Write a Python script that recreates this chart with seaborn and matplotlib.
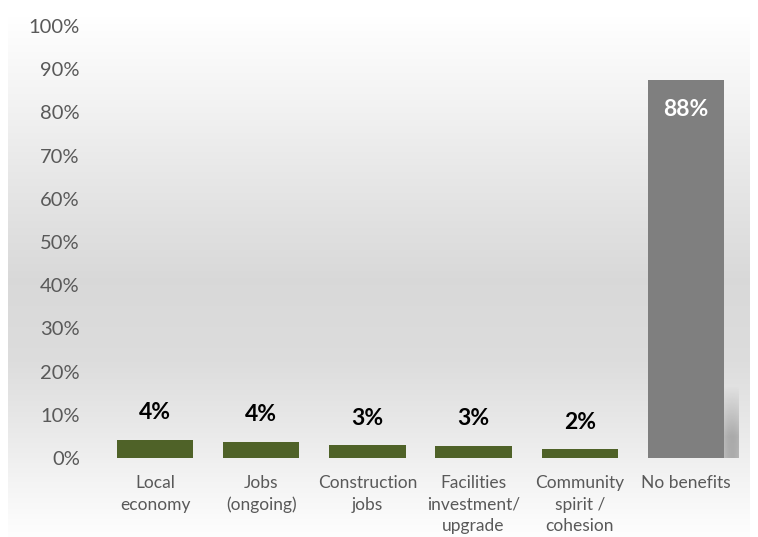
import numpy as np
import pandas as pd
import matplotlib
matplotlib.use("Agg")
import matplotlib.pyplot as plt
import seaborn as sns

# ---- data ----
categories = ["Local\neconomy", "Jobs\n(ongoing)", "Construction\njobs",
              "Facilities\ninvestment/\nupgrade", "Community\nspirit /\ncohesion",
              "No benefits"]
values = [4.2, 3.8, 2.9, 2.8, 2.0, 87.5]
value_labels = ["4%", "4%", "3%", "3%", "2%", "88%"]
bar_colors = ["#4f6228", "#4f6228", "#4f6228", "#4f6228", "#4f6228", "#7f7f7f"]
label_inside = [False, False, False, False, False, True]
y_ticks = [0, 10, 20, 30, 40, 50, 60, 70, 80, 90, 100]
y_tick_labels = ["0%", "10%", "20%", "30%", "40%", "50%", "60%", "70%", "80%", "90%", "100%"]

sns.set_style("white")
plt.rcParams["font.family"] = ["Lato", "DejaVu Sans"]

W, H, DPI = 758, 537, 100
fig = plt.figure(figsize=(W / DPI, H / DPI), dpi=DPI)
fig.patch.set_facecolor("white")

# ---- background gradient (chart area) ----
bg = fig.add_axes([8 / W, 0, (750 - 8) / W, (H - 17) / H])
bg.set_axis_off()
ys = np.arange(17, H) + 0.5
stops_y = [17, 80, 180, 280, 360, 430, 480, 520, 537]
stops_v = [1.0, 0.965, 0.905, 0.85, 0.865, 0.915, 0.955, 0.985, 0.995]
g = np.interp(ys, stops_y, stops_v)
img = np.repeat(np.repeat(g[:, None, None], 4, axis=1), 3, axis=2)
bg.imshow(img, aspect="auto", interpolation="nearest")

# ---- main axes ----
left, right = 102, 739
top, bottom = 26, 458
ax = fig.add_axes([left / W, (H - bottom) / H, (right - left) / W, (bottom - top) / H])
ax.set_facecolor("none")

df = pd.DataFrame({"category": categories, "value": values})
sns.barplot(data=df, x="category", y="value", hue="category",
            palette=dict(zip(categories, bar_colors)), order=categories,
            hue_order=categories, width=0.72, saturation=1, legend=False,
            linewidth=0, edgecolor="none", ax=ax, zorder=3)

# soft cast shadow next to the tall bar
bar = ax.containers[-1][0]
x0 = bar.get_x() + bar.get_width()
x1 = x0 + bar.get_width() * 0.24
y1 = bar.get_height() * 0.19
ny, nx = 80, 24
t = np.linspace(0, 1, ny)[:, None]          # 0 bottom -> 1 top
s = np.linspace(0, 1, nx)[None, :]          # 0 left -> 1 right
vert = np.clip((1 - t) / 0.7, 0, 1) ** 1.0
horiz = 0.5 + 0.5 * np.sin(np.pi * np.clip(s * 0.9 + 0.1, 0, 1)) ** 0.5
alpha = vert * horiz * 0.6
shadow = np.zeros((ny, nx, 4))
shadow[..., :3] = 0.5
shadow[..., 3] = alpha
ax.imshow(shadow, extent=[x0, x1, 0, y1], origin="lower", aspect="auto",
          interpolation="bilinear", zorder=2)

# value labels
for cont, lbl, inside in zip(ax.containers, value_labels, label_inside):
    b = cont[0]
    cx = b.get_x() + b.get_width() / 2
    h = b.get_height()
    if inside:
        ax.annotate(lbl, (cx, h), xytext=(0, -21), textcoords="offset points",
                    ha="center", va="center", fontsize=16.5, fontweight="bold",
                    color="white", zorder=5)
    else:
        ax.annotate(lbl, (cx, h), xytext=(0, 12), textcoords="offset points",
                    ha="center", va="bottom", fontsize=16.5, fontweight="bold",
                    color="black", zorder=5)

ax.set_xlim(-0.5, len(categories) - 0.5)
ax.set_ylim(0, 100)
ax.set_yticks(y_ticks)
ax.set_yticklabels(y_tick_labels)
ax.set_xlabel("")
ax.set_ylabel("")
for sp in ax.spines.values():
    sp.set_visible(False)
ax.tick_params(axis="y", length=0, pad=16, labelsize=14.5, labelcolor="#595959")
ax.tick_params(axis="x", length=0, pad=12, labelsize=12.5, labelcolor="#595959")
for lab in ax.get_xticklabels():
    lab.set_linespacing(1.45)
    lab.set_verticalalignment("top")

fig.savefig("out.png", dpi=DPI)
